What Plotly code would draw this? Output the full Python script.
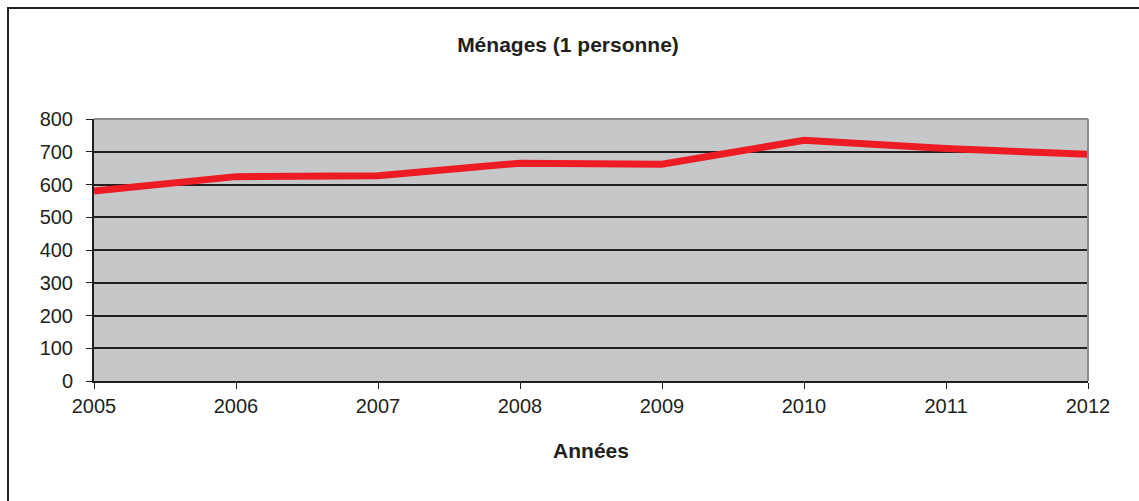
import plotly.graph_objects as go

years = [2005, 2006, 2007, 2008, 2009, 2010, 2011, 2012]
menages = [580, 624, 627, 665, 662, 735, 710, 692]
y_ticks = [0, 100, 200, 300, 400, 500, 600, 700, 800]

W, H = 1139, 501
L, R, T, B = 94, W - 1088, 119, H - 381
pw, ph = W - L - R, H - T - B

def px_x(x):
    return (x - L) / pw

def px_y(y):
    return (H - B - y) / ph

fig = go.Figure()
fig.add_trace(go.Scatter(
    x=years, y=menages, mode="lines",
    line=dict(color="#ED1C24", width=7),
    showlegend=False, cliponaxis=False,
))

fig.update_layout(
    width=W, height=H,
    margin=dict(l=L, r=R, t=T, b=B),
    paper_bgcolor="white",
    plot_bgcolor="#C6C7C9",
    font=dict(family="Liberation Sans, Arial", color="#231F20", size=20),
    title=dict(text="<b>Ménages (1 personne)</b>", x=px_x(568), xref="paper",
               y=1 - 45 / H, yref="container", xanchor="center", yanchor="middle",
               font=dict(size=21, color="#231F20")),
    xaxis=dict(
        range=[2005, 2012], tickvals=years, ticktext=[str(y) for y in years],
        showgrid=False, zeroline=False, showline=True, linecolor="#231F20", linewidth=2,
        ticks="outside", ticklen=6, tickcolor="#231F20", tickwidth=1,
        title=dict(text="<b>Années</b>", font=dict(size=21, color="#231F20"), standoff=27),
        mirror=False,
    ),
    yaxis=dict(
        range=[0, 800], tickvals=y_ticks,
        showgrid=True, gridcolor="#231F20", gridwidth=2,
        zeroline=False, showline=True, linecolor="#231F20", linewidth=2,
        ticks="outside", ticklen=6, tickcolor="#231F20", tickwidth=1,
        ticklabelstandoff=9,
    ),
    shapes=[
        dict(type="line", xref="paper", yref="paper", x0=0, x1=1, y0=1, y1=1,
             line=dict(color="#8A8B8D", width=2), layer="above"),
        dict(type="line", xref="paper", yref="paper", x0=1, x1=1, y0=0, y1=1,
             line=dict(color="#8A8B8D", width=2), layer="above"),
        dict(type="rect", xref="paper", yref="paper",
             x0=px_x(8), x1=px_x(W + 10), y0=px_y(H + 10), y1=px_y(8),
             line=dict(color="#231F20", width=2), fillcolor="rgba(0,0,0,0)", layer="below"),
    ],
)

fig.write_html("out.html", config={"displayModeBar": False},
               post_script="document.body.style.margin='0';document.body.style.overflow='hidden';")
